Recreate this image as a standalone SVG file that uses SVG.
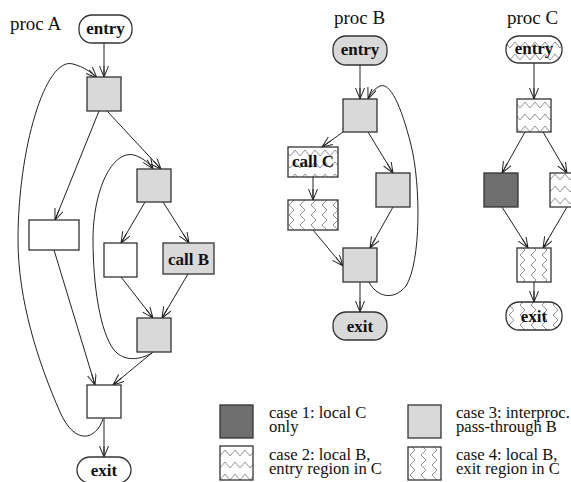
<svg xmlns="http://www.w3.org/2000/svg" width="571" height="482" viewBox="0 0 571 482" font-family="'Liberation Serif', 'DejaVu Serif', serif">
<style>
text{font-family:'Liberation Serif','DejaVu Serif',serif}
.lbl{font-size:19px;fill:#111}
.leg{font-size:16.6px;fill:#111}
.nt{font-size:17px;font-weight:bold;fill:#111;text-anchor:middle}
.box{stroke:#333;stroke-width:1.3}
.g{fill:#d9d9d9}
.w{fill:#fff}
.d{fill:#6e6e6e}
.z2{fill:url(#case2)}
.z4{fill:url(#case4)}
.e{fill:none;stroke:#222;stroke-width:1;marker-end:url(#arr)}
</style>
<defs>
<marker id="arr" markerUnits="userSpaceOnUse" markerWidth="12" markerHeight="10" refX="11" refY="4.5" orient="auto">
<path d="M0,0 L11,4.5 L0,9 M0,4.5 L11,4.5" fill="none" stroke="#222" stroke-width="1"/>
</marker>
<pattern id="case2" patternUnits="userSpaceOnUse" x="0" y="3" width="10" height="12">
<rect width="10" height="12" fill="#fff"/>
<path d="M0,9 L5,3 L10,9" fill="none" stroke="#777" stroke-width="0.8"/>
</pattern>
<pattern id="case4" patternUnits="userSpaceOnUse" x="0" y="0" width="11" height="10">
<rect width="11" height="10" fill="#fff"/>
<path d="M8,0 L3,5 L8,10" fill="none" stroke="#777" stroke-width="0.8"/>
</pattern>
</defs>

<text class="lbl" x="10" y="30">proc A</text>
<text class="lbl" x="334" y="24">proc B</text>
<text class="lbl" x="507" y="24">proc C</text>

<g id="connectors">
<path class="e" d="M104,43 L104,77"/>
<path class="e" d="M107,111 L161,169"/>
<path class="e" d="M99,111 L55,220"/>
<path class="e" d="M145,202 L121,243"/>
<path class="e" d="M163,202 L189,243"/>
<path class="e" d="M121,277 L153,318"/>
<path class="e" d="M188,274 L162,318"/>
<path class="e" d="M153,352 L113,385"/>
<path class="e" d="M54,250 L95,385"/>
<path class="e" d="M104,418 L104,457"/>
<path class="e" d="M103,419 C96,440 75,446 60,412 C38,362 18,300 18,240 C18,150 45,56 73,64 C84,67 91,72 97,78"/>
<path class="e" d="M152,353 C140,360 124,362 114,350 C100,332 93,285 93,240 C93,190 112,150 134,155 C143,158 149,163 153,169"/>
<path class="e" d="M360,65 L360,99"/>
<path class="e" d="M343,132 L322,147"/>
<path class="e" d="M368,132 L393,173"/>
<path class="e" d="M313,177 L313,200"/>
<path class="e" d="M313,230 L343,266"/>
<path class="e" d="M393,207 L370,248"/>
<path class="e" d="M360,282 L360,312"/>
<path class="e" d="M369,282 C376,296 393,302 406,286 C421,262 421,185 411,145 C401,105 390,82 380,86 C374,89 370,94 368,99"/>
<path class="e" d="M534,63 L534,99"/>
<path class="e" d="M525,132 L502,173"/>
<path class="e" d="M543,132 L567,173"/>
<path class="e" d="M502,207 L528,248"/>
<path class="e" d="M567,207 L543,248"/>
<path class="e" d="M534,282 L534,302"/>
</g>

<g id="A_entry"><rect class="box w" x="79" y="15" width="53" height="28" rx="13"/><text class="nt" x="105.5" y="34">entry</text></g>
<g id="A_n1"><rect class="box g" x="87" y="77" width="34" height="34"/></g>
<g id="A_n2"><rect class="box g" x="137" y="169" width="34" height="33"/></g>
<g id="A_n3"><rect class="box w" x="29" y="220" width="50" height="30"/></g>
<g id="A_n4"><rect class="box w" x="104" y="243" width="33" height="34"/></g>
<g id="A_callB"><rect class="box g" x="163" y="243" width="51" height="31"/><text class="nt" x="188.5" y="265">call B</text></g>
<g id="A_n5"><rect class="box g" x="137" y="318" width="34" height="34"/></g>
<g id="A_n6"><rect class="box w" x="87" y="385" width="34" height="33"/></g>
<g id="A_exit"><rect class="box w" x="77" y="457" width="54" height="26" rx="13"/><text class="nt" x="104" y="476">exit</text></g>

<g id="B_entry"><rect class="box g" x="333" y="36" width="54" height="29" rx="13"/><text class="nt" x="360" y="55">entry</text></g>
<g id="B_n1"><rect class="box g" x="343" y="99" width="34" height="33"/></g>
<g id="B_callC"><rect class="box z2" x="288" y="147" width="50" height="30"/><text class="nt" x="313" y="167">call C</text></g>
<g id="B_n2"><rect class="box z4" x="288" y="200" width="50" height="30"/></g>
<g id="B_n3"><rect class="box g" x="376" y="173" width="34" height="34"/></g>
<g id="B_n4"><rect class="box g" x="343" y="248" width="34" height="34"/></g>
<g id="B_exit"><rect class="box g" x="333" y="312" width="54" height="28" rx="13"/><text class="nt" x="360" y="332">exit</text></g>

<g id="C_entry"><rect class="box z2" x="506" y="36" width="56" height="27" rx="13"/><text class="nt" x="534" y="54">entry</text></g>
<g id="C_n1"><rect class="box z2" x="517" y="99" width="34" height="33"/></g>
<g id="C_n2"><rect class="box d" x="484" y="173" width="34" height="34"/></g>
<g id="C_n3"><rect class="box z2" x="550" y="173" width="34" height="34"/></g>
<g id="C_n4"><rect class="box z4" x="517" y="248" width="34" height="34"/></g>
<g id="C_exit"><rect class="box z4" x="506" y="302" width="56" height="28" rx="13"/><text class="nt" x="534" y="322">exit</text></g>

<g id="legend">
<rect class="box d" x="220" y="405" width="33" height="33"/>
<text class="leg" x="269" y="418">case 1: local C</text>
<text class="leg" x="269" y="432">only</text>
<rect class="box z2" x="220" y="446" width="33" height="34"/>
<text class="leg" x="269" y="460">case 2: local B,</text>
<text class="leg" x="269" y="474">entry region in C</text>
<rect class="box g" x="408" y="405" width="33" height="33"/>
<text class="leg" x="456" y="418">case 3: interproc.</text>
<text class="leg" x="456" y="432">pass-through B</text>
<rect class="box z4" x="408" y="447" width="33" height="33"/>
<text class="leg" x="456" y="460">case 4: local B,</text>
<text class="leg" x="456" y="474">exit region in C</text>
</g>
</svg>
